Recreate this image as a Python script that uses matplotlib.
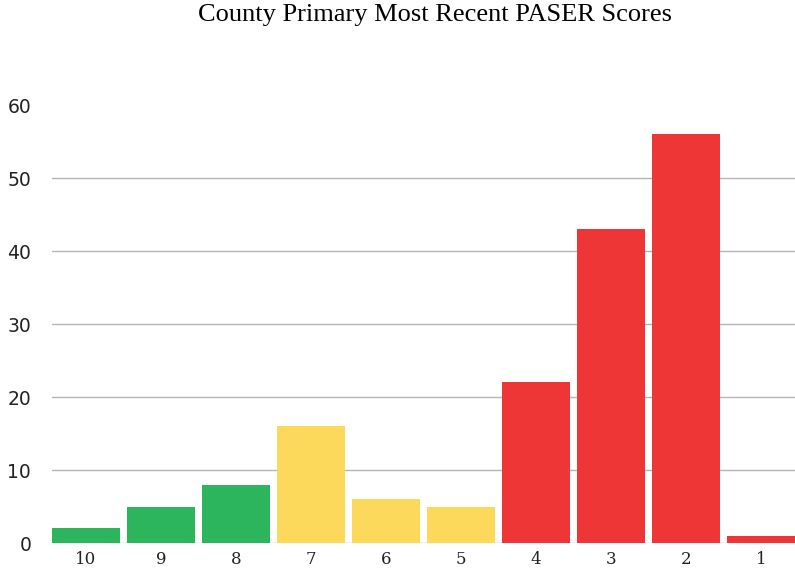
import matplotlib
matplotlib.use("Agg")
import matplotlib.pyplot as plt
import numpy as np

plt.rcParams['font.family'] = ['DejaVu Sans']

# PASER scores, best to worst
scores = ["10", "9", "8", "7", "6", "5", "4", "3", "2", "1"]
counts = [2, 5, 8, 16, 6, 5, 22, 43, 56, 1]
bar_colors = ["#2db55d"] * 3 + ["#fcd95a"] * 3 + ["#ef3636"] * 4

fig = plt.figure(figsize=(7.95, 5.71), dpi=100)
ax = fig.add_axes([0.0654, 0.049, 0.9346, 0.767])

x = np.arange(len(scores))
ax.bar(x, counts, width=0.9, color=bar_colors, zorder=3)

ax.set_xlim(-0.45, len(scores) - 0.55)
ax.set_ylim(0, 60)
ax.set_yticks([0, 10, 20, 30, 40, 50, 60])
ax.set_xticks(x)
ax.set_xticklabels(scores, fontsize=12, family="DejaVu Serif")

# gridlines, skip the top one
for v in [0, 10, 20, 30, 40, 50]:
    ax.axhline(v, color="#b5b5b5", lw=1, zorder=1)

for s in ax.spines.values():
    s.set_visible(False)
ax.tick_params(axis="both", length=0)
ax.tick_params(axis="y", labelsize=13.5, pad=15, labelcolor="#222222")
ax.tick_params(axis="x", pad=6, labelcolor="#222222")

fig.text(0.547, 0.974, "County Primary Most Recent PASER Scores",
         ha="center", va="center", fontsize=19, family="Liberation Serif")

fig.savefig("out.png", dpi=100)
